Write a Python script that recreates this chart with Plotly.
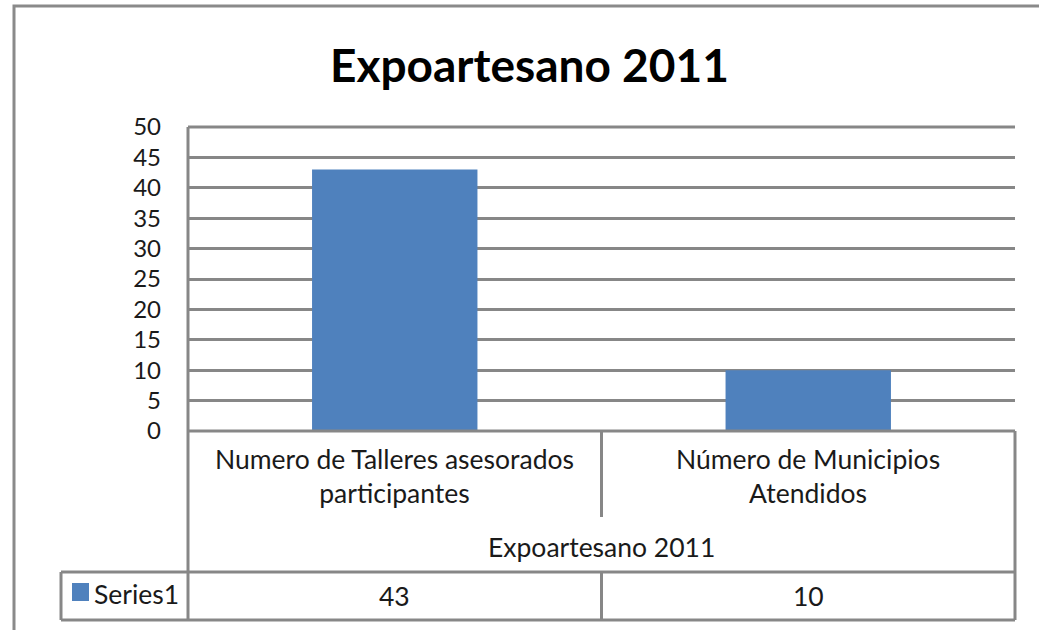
import plotly.graph_objects as go

title_text = "Expoartesano 2011"
categories = ["Numero de Talleres asesorados<br>participantes", "Número de Municipios<br>Atendidos"]
values = [43, 10]
series_name = "Series1"
group_label = "Expoartesano 2011"
y_ticks = [0, 5, 10, 15, 20, 25, 30, 35, 40, 45, 50]

W, H = 1039, 630
L, R, T, B = 188, 1015, 127, 431
FONT = "Lato"
LINE = "#878787"
BLUE = "#4F81BD"
FS = 26.5

def px(x):
    return (x - L) / (R - L)

def py(y):
    return (B - y) / (B - T)

fig = go.Figure(go.Bar(x=categories, y=values, marker=dict(color=BLUE, line=dict(width=0)),
                       name=series_name, showlegend=False))

fig.update_layout(
    width=W, height=H,
    margin=dict(l=L, r=W - R, t=T, b=H - B),
    paper_bgcolor="white", plot_bgcolor="white",
    bargap=0.6,
    font=dict(family=FONT, color="#1a1a1a"),
)
fig.update_xaxes(showticklabels=False, showgrid=False, showline=False, zeroline=False, ticks="")
fig.update_yaxes(range=[0, 50], tickvals=y_ticks, showgrid=True, gridcolor=LINE, gridwidth=3,
                 zeroline=False, showline=False, ticks="", ticklabelstandoff=26,
                 tickfont=dict(family=FONT, size=24, color="#1a1a1a"))

shapes = []
def seg(x0, y0, x1, y1):
    shapes.append(dict(type="line", xref="paper", yref="paper", x0=px(x0), y0=py(y0), x1=px(x1), y1=py(y1),
                       line=dict(color=LINE, width=3), layer="above"))

# outer chart border
shapes.append(dict(type="rect", xref="paper", yref="paper", x0=px(14), y0=py(6), x1=px(1080), y1=py(680),
                   line=dict(color="#8a8a8a", width=3), fillcolor="rgba(0,0,0,0)", layer="below"))
# plot area / data table lines
seg(L, T, L, 620)
seg(L, T, R, T)
seg(L, B, R, B)
seg(R, B, R, 620)
seg((L + R) / 2, B, (L + R) / 2, 517)
seg(61, 572, R, 572)
seg(61, 620, R, 620)
seg(61, 572, 61, 620)
seg((L + R) / 2, 572, (L + R) / 2, 620)
# legend key
shapes.append(dict(type="rect", xref="paper", yref="paper", x0=px(72), y0=py(583), x1=px(89), y1=py(601),
                   line=dict(width=0), fillcolor=BLUE))
fig.update_layout(shapes=shapes)

ann = []
ann.append(dict(text="<b>" + title_text + "</b>", xref="paper", yref="paper", x=px(529), y=py(64),
                showarrow=False, font=dict(family=FONT, size=46, color="black"), xanchor="center", yanchor="middle"))
for c, v in zip(categories, values):
    ann.append(dict(text=c, xref="x", yref="paper", x=c, y=py(476), showarrow=False,
                    font=dict(size=FS), xanchor="center", yanchor="middle"))
    ann.append(dict(text=str(v), xref="x", yref="paper", x=c, y=py(596), showarrow=False,
                    font=dict(size=FS), xanchor="center", yanchor="middle"))
ann.append(dict(text=group_label, xref="paper", yref="paper", x=0.5, y=py(547), showarrow=False,
                font=dict(size=FS), xanchor="center", yanchor="middle"))
ann.append(dict(text=series_name, xref="paper", yref="paper", x=px(92), y=py(594), showarrow=False,
                font=dict(size=FS), xanchor="left", yanchor="middle"))
fig.update_layout(annotations=ann)

fig.write_html("out.html", config={"displayModeBar": False},
               post_script="document.body.style.margin='0px';document.body.style.overflow='hidden';")
